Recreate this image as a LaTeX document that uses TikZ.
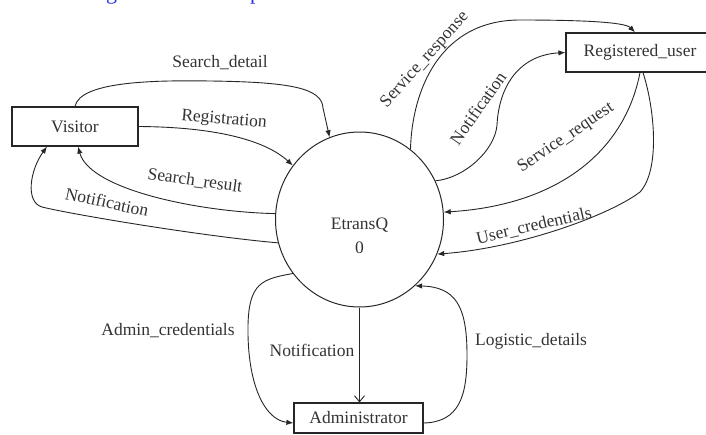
\documentclass[tikz,border=0pt]{standalone}
\usepackage{fontspec}
\setmainfont{Liberation Serif}
\usetikzlibrary{arrows.meta,shapes.geometric}
\definecolor{capblue}{RGB}{45,45,225}
\begin{document}
\begin{tikzpicture}[x=1pt,y=-1pt,
  entity/.style={draw=black!85, line width=1.2pt, inner sep=0pt, text=black!80,
    font=\fontsize{17.5}{20}\selectfont},
  process/.style={draw=black!85, line width=1pt, ellipse, inner sep=0pt,
    minimum width=168pt, minimum height=175pt},
  lbl/.style={inner sep=0pt, text=black!80, font=\fontsize{17.5}{20}\selectfont},
  flow/.style={draw=black!85, line width=0.9pt, -{Latex[length=7pt,width=5.5pt]}},
  openflow/.style={draw=black!85, line width=0.9pt, -{Straight Barb[length=6pt,width=10pt]}},
  capfrag/.style={inner sep=0pt, text=capblue, font=\fontsize{22}{22}\selectfont}]
\useasboundingbox (0,0) rectangle (706,434);

% descenders of the caption line above the figure
\node[capfrag, anchor=base] (capg) at (111.5,-0.5) {g};
\node[capfrag, anchor=base west] (capp) at (250,-0.5) {p};

% external entities and the central process
\node[entity, minimum width=126pt, minimum height=39pt] (V) at (75,126.5) {Visitor};
\node[entity, minimum width=148pt, minimum height=39pt] (R) at (640,52.5) {Registered\_user};
\node[entity, minimum width=129pt, minimum height=30pt] (A) at (358.5,418) {Administrator};
\node[process] (E) at (359.5,219.5) {};
\node[lbl, align=center, font=\fontsize{17.5}{24}\selectfont] (Et) at (359.5,236) {EtransQ\\0};

% Visitor flows
\draw[flow] (V.north) .. controls (80,82) and (150,80) .. (210,81)
  .. controls (290,82) and (322,88) .. (323,108) -- (E.110);
\draw[flow] (V.east) .. controls (215,127) and (265,140) .. (E.141);
\draw[flow] (E.176) .. controls (200,212) and (90,190) .. ([xshift=3pt]V.south);
\draw[flow] (E.196) .. controls (200,236) and (70,214) .. (42,207)
  .. controls (25,202) and (30,170) .. ([xshift=-28pt]V.south);

% Registered_user flows
\draw[flow] (E.54) .. controls (412,90) and (440,20) .. (520,20)
  .. controls (580,20) and (625,22) .. ([xshift=-5pt]R.north);
\draw[flow] (E.27) .. controls (465,178) and (495,150) .. (497,125)
  .. controls (499,85) and (520,55) .. (R.west);
\draw[flow] (R.south) .. controls (625,150) and (560,205) .. (E.5);
\draw[flow] ([xshift=3pt]R.south) .. controls (655,110) and (660,170) .. (640,192)
  .. controls (610,215) and (520,248) .. (E.336);

% Administrator flows
\draw[openflow] (E.south) -- (E.south |- A.north);
\draw[flow] (E.219) .. controls (262,279) and (249,283) .. (248,325)
  .. controls (247,385) and (265,420) .. ([yshift=-5pt]A.west);
\draw[flow] ([yshift=-5pt]A.east) .. controls (460,422) and (467,395) .. (467,355)
  .. controls (467,305) and (455,287) .. (E.310);

% flow labels
\node[lbl] (lsd) at (220,63) {Search\_detail};
\node[lbl, rotate=-5] (lreg) at (224,120) {Registration};
\node[lbl, rotate=-8] (lsr) at (195,181) {Search\_result};
\node[lbl, rotate=-12] (lnv) at (107,202) {Notification};
\node[lbl, rotate=48] (lsrsp) at (425,60) {Service\_response};
\node[lbl, rotate=55] (lnr) at (478,108) {Notification};
\node[lbl, rotate=34] (lsrq) at (566,138) {Service\_request};
\node[lbl, rotate=13] (luc) at (534,226) {User\_credentials};
\node[lbl] (lac) at (168,331) {Admin\_credentials};
\node[lbl] (lna) at (312,350) {Notification};
\node[lbl] (lld) at (531,341) {Logistic\_details};
\end{tikzpicture}
\end{document}
